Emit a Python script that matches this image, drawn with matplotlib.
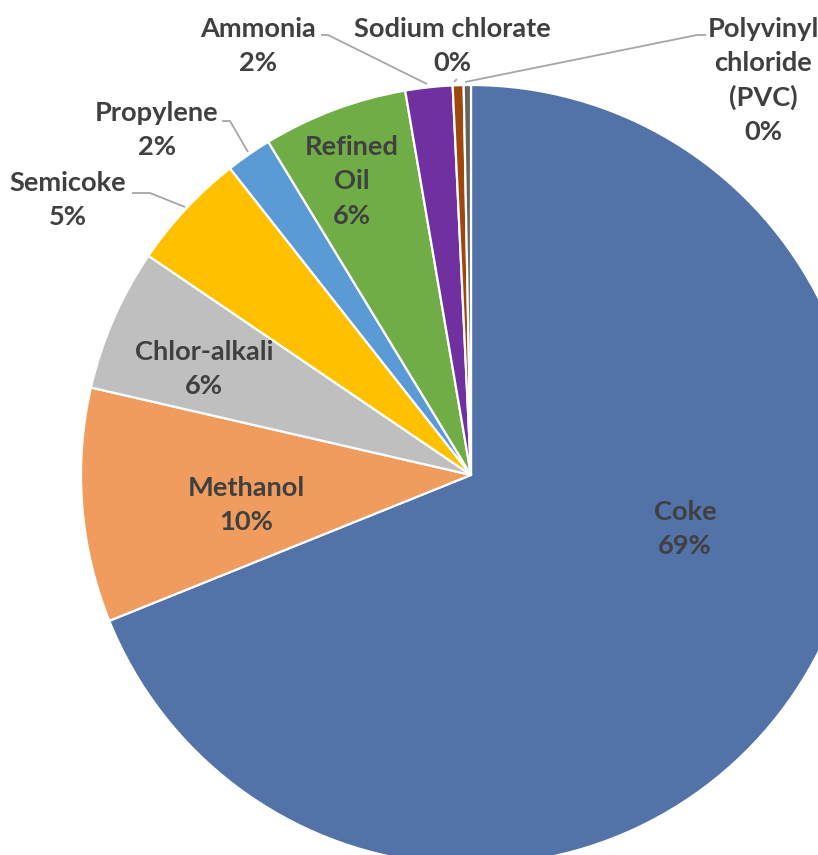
#!/usr/bin/env python3
"""Pie chart of by-product shares (Coke, Methanol, ...)."""

import matplotlib

matplotlib.use("Agg")
import matplotlib.pyplot as plt

# data (clockwise from 12 o'clock)
categories = [
    "Coke",
    "Methanol",
    "Chlor-alkali",
    "Semicoke",
    "Propylene",
    "Refined\nOil",
    "Ammonia",
    "Sodium chlorate",
    "Polyvinyl\nchloride\n(PVC)",
]
shares = [68.9, 9.7, 5.9, 4.9, 1.9, 6.0, 1.95, 0.45, 0.3]
colors = [
    "#5272A8",
    "#F09C5F",
    "#BFBFBF",
    "#FFC000",
    "#5B9BD5",
    "#70AD47",
    "#7030A0",
    "#9E480E",
    "#636363",
]

W, H = 818, 855
TEXT = "#404040"
LEADER = "#A6A6A6"
FONT = "Lato"

# label anchor (x, y of first line centre) in pixels from top-left
label_pos = [
    (685, 512),
    (246, 488),
    (204, 352),
    (68, 183),
    (157, 113),
    (352, 147),
    (258, 29),
    (452, 29),
    (763, 29),
]
leaders = [
    [(132, 193), (150, 193), (185, 207)],
    [(222, 121), (230, 121), (248, 152)],
    [(321, 35), (328, 35), (427, 84)],
    [(454, 82), (457, 79)],
    [(465, 82), (697, 35), (706, 35)],
]


def fy(y):
    return H - y


def main():
    fig = plt.figure(figsize=(W / 100, H / 100), dpi=100)
    ax = fig.add_axes([0, 0, 1, 1])

    ax.pie(
        shares,
        colors=colors,
        startangle=90,
        counterclock=False,
        center=(471, fy(475)),
        radius=390,
        wedgeprops=dict(edgecolor="white", linewidth=1.6),
    )
    ax.set_xlim(0, W)
    ax.set_ylim(0, H)
    ax.set_aspect("equal")
    ax.axis("off")

    step = 34.3
    for name, val, (x, y) in zip(categories, shares, label_pos):
        lines = name.split("\n") + [f"{round(val)}%"]
        for i, line in enumerate(lines):
            ax.text(x, fy(y + i * step), line, ha="center", va="center",
                    fontsize=19.6, fontweight="bold", color=TEXT, family=FONT)

    for pts in leaders:
        xs = [p[0] for p in pts]
        ys = [fy(p[1]) for p in pts]
        ax.plot(xs, ys, color=LEADER, linewidth=1.3, solid_capstyle="butt")

    fig.savefig("out.png", dpi=100)


if __name__ == "__main__":
    main()
